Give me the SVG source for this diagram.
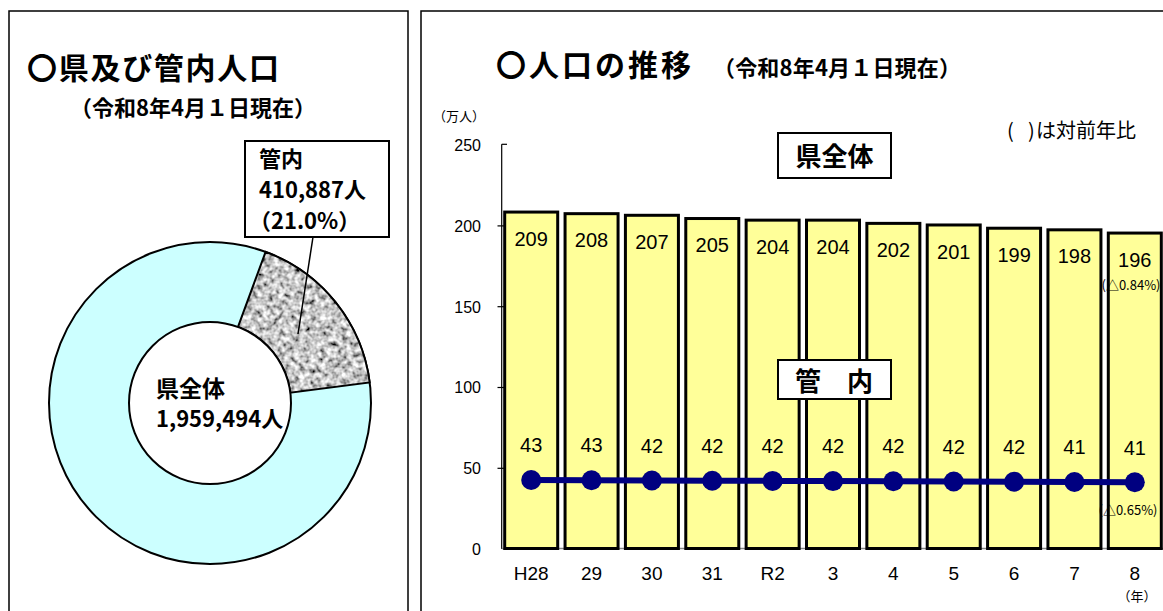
<svg xmlns="http://www.w3.org/2000/svg" width="1163" height="611" viewBox="0 0 1163 611">
<style>
.jp{font-family:"Noto Sans CJK JP","Liberation Sans",sans-serif;fill:#000}
.b{font-weight:bold}
.num{font-family:"Liberation Sans","Noto Sans CJK JP",sans-serif;fill:#000}
.panel{fill:#fff;stroke:#000;stroke-width:1.5}
.bar{fill:#ffff99;stroke:#000;stroke-width:3}
.box{fill:#fff;stroke:#000;stroke-width:2}
.ax{font-size:16px;text-anchor:end}
.bv{font-size:20px;text-anchor:middle}
.xl{font-size:19px;text-anchor:middle}
.dot{fill:#000080}
</style>
<defs>
<filter id="noise" x="0" y="0" width="100%" height="100%">
<feTurbulence type="fractalNoise" baseFrequency="0.19" numOctaves="2" seed="7" result="t"/>
<feColorMatrix in="t" type="matrix" values="1.8 0 0 0 -0.33 1.8 0 0 0 -0.33 1.8 0 0 0 -0.33 0 0 0 0 1" result="g"/>
<feComposite in="g" in2="SourceGraphic" operator="in"/>
</filter>
</defs>
<rect width="1163" height="611" fill="#fff"/>
<g id="left-panel">
<rect class="panel" x="9" y="11" width="399" height="700"/>
<text class="jp b" x="27" y="79" font-size="30" textLength="252">〇県及び管内人口</text>
<text class="jp b" x="70" y="116" font-size="22" textLength="246">（令和8年4月１日現在）</text>
</g>
<g id="donut">
<circle cx="210" cy="403" r="161" fill="#ccffff" stroke="#000" stroke-width="2"/>
<path d="M265.6,251.9 A161,161 0 0 1 369.7,382.5 L290.3,392.7 A81,81 0 0 0 238.0,327.0 Z" fill="#999" filter="url(#noise)"/>
<path d="M265.6,251.9 A161,161 0 0 1 369.7,382.5 L290.3,392.7 A81,81 0 0 0 238.0,327.0 Z" fill="none" stroke="#000" stroke-width="2"/>
<circle cx="210" cy="403" r="81" fill="#fff" stroke="#000" stroke-width="2"/>
</g>
<g id="node-total">
<text class="jp b" x="156" y="397" font-size="23">県全体</text>
<text class="jp b" x="156" y="427" font-size="22">1,959,494人</text>
</g>
<g id="node-kannai-callout">
<rect class="box" x="245" y="141" width="144" height="96"/>
<text class="jp b" x="259" y="167" font-size="22">管内</text>
<text class="jp b" x="259" y="198" font-size="22">410,887人</text>
<text class="jp b" x="249" y="229" font-size="22">（21.0%）</text>
</g>
<g id="connectors">
<line x1="313" y1="237" x2="298" y2="334" stroke="#000" stroke-width="1.5"/>
</g>
<g id="right-panel">
<rect class="panel" x="421" y="11" width="800" height="700"/>
<text class="jp b" x="496" y="76" font-size="30" textLength="195">〇人口の推移</text>
<text class="jp b" x="713" y="76" font-size="22" textLength="248">（令和8年4月１日現在）</text>
<text class="jp" x="433" y="121" font-size="13">（万人）</text>
<text class="jp" y="138" font-size="20"><tspan x="1007">(</tspan><tspan x="1028">)</tspan><tspan x="1036">は対前年比</tspan></text>
</g>
<g id="axis">
<line x1="501.7" y1="144.3" x2="501.7" y2="549" stroke="#000" stroke-width="1.2"/>
<line x1="501.7" y1="548.5" x2="1163" y2="548.5" stroke="#888" stroke-width="1.5"/>
<g stroke="#000" stroke-width="1.2">
<line x1="501.7" y1="144.3" x2="507" y2="144.3"/>
<line x1="497.5" y1="225.9" x2="505" y2="225.9"/>
<line x1="497.5" y1="306.7" x2="505" y2="306.7"/>
<line x1="497.5" y1="387.5" x2="505" y2="387.5"/>
<line x1="497.5" y1="468.3" x2="505" y2="468.3"/>
</g>
<text class="num ax" x="481" y="151">250</text>
<text class="num ax" x="481" y="232">200</text>
<text class="num ax" x="481" y="313">150</text>
<text class="num ax" x="481" y="393">100</text>
<text class="num ax" x="481" y="474">50</text>
<text class="num ax" x="481" y="555">0</text>
</g>
<g id="bars">
<rect class="bar" x="504.7" y="212.06" width="53" height="336.44"/>
<rect class="bar" x="565.06" y="213.67" width="53" height="334.83"/>
<rect class="bar" x="625.42" y="215.29" width="53" height="333.21"/>
<rect class="bar" x="685.78" y="218.52" width="53" height="329.98"/>
<rect class="bar" x="746.14" y="220.14" width="53" height="328.36"/>
<rect class="bar" x="806.5" y="220.14" width="53" height="328.36"/>
<rect class="bar" x="866.86" y="223.37" width="53" height="325.13"/>
<rect class="bar" x="927.22" y="224.98" width="53" height="323.52"/>
<rect class="bar" x="987.58" y="228.22" width="53" height="320.28"/>
<rect class="bar" x="1047.94" y="229.83" width="53" height="318.67"/>
<rect class="bar" x="1108.3" y="233.06" width="53" height="315.44"/>
</g>
<g id="bar-values">
<text class="num bv" x="531.2" y="245.6">209</text>
<text class="num bv" x="591.56" y="247.2">208</text>
<text class="num bv" x="651.92" y="248.8">207</text>
<text class="num bv" x="712.28" y="252.0">205</text>
<text class="num bv" x="772.64" y="253.6">204</text>
<text class="num bv" x="833.0" y="253.6">204</text>
<text class="num bv" x="893.36" y="256.9">202</text>
<text class="num bv" x="953.72" y="258.5">201</text>
<text class="num bv" x="1014.08" y="261.7">199</text>
<text class="num bv" x="1074.44" y="263.3">198</text>
<text class="num bv" x="1134.8" y="266.6">196</text>
<text class="jp" x="1131" y="290" font-size="13" text-anchor="middle">(△0.84%)</text>
</g>
<g id="node-label-ken">
<rect class="box" x="778" y="133" width="113" height="45"/>
<text class="jp b" x="834.5" y="166" font-size="26" text-anchor="middle">県全体</text>
</g>
<g id="node-label-kannai">
<rect class="box" x="778" y="360" width="113" height="39"/>
<text class="jp b" x="834" y="391" font-size="26" text-anchor="middle">管　内</text>
</g>
<g id="line-series">
<polyline points="531.2,480 591.56,480.2 651.92,480.5 712.28,480.7 772.64,480.9 833,481.1 893.36,481.3 953.72,481.5 1014.08,481.7 1074.44,482 1134.8,482.3" fill="none" stroke="#000080" stroke-width="6"/>
<circle class="dot" cx="531.2" cy="480" r="10"/>
<circle class="dot" cx="591.56" cy="480.2" r="10"/>
<circle class="dot" cx="651.92" cy="480.5" r="10"/>
<circle class="dot" cx="712.28" cy="480.7" r="10"/>
<circle class="dot" cx="772.64" cy="480.9" r="10"/>
<circle class="dot" cx="833" cy="481.1" r="10"/>
<circle class="dot" cx="893.36" cy="481.3" r="10"/>
<circle class="dot" cx="953.72" cy="481.5" r="10"/>
<circle class="dot" cx="1014.08" cy="481.7" r="10"/>
<circle class="dot" cx="1074.44" cy="482" r="10"/>
<circle class="dot" cx="1134.8" cy="482.3" r="10"/>
<text class="num bv" x="531.2" y="452">43</text>
<text class="num bv" x="591.56" y="452">43</text>
<text class="num bv" x="651.92" y="452.5">42</text>
<text class="num bv" x="712.28" y="452.5">42</text>
<text class="num bv" x="772.64" y="453">42</text>
<text class="num bv" x="833" y="453">42</text>
<text class="num bv" x="893.36" y="453">42</text>
<text class="num bv" x="953.72" y="453.5">42</text>
<text class="num bv" x="1014.08" y="453.5">42</text>
<text class="num bv" x="1074.44" y="454">41</text>
<text class="num bv" x="1134.8" y="454.5">41</text>
<text class="jp" x="1128" y="515" font-size="13" text-anchor="middle">(△0.65%)</text>
</g>
<g id="x-labels">
<text class="num xl" x="531.2" y="580">H28</text>
<text class="num xl" x="591.56" y="580">29</text>
<text class="num xl" x="651.92" y="580">30</text>
<text class="num xl" x="712.28" y="580">31</text>
<text class="num xl" x="772.64" y="580">R2</text>
<text class="num xl" x="833" y="580">3</text>
<text class="num xl" x="893.36" y="580">4</text>
<text class="num xl" x="953.72" y="580">5</text>
<text class="num xl" x="1014.08" y="580">6</text>
<text class="num xl" x="1074.44" y="580">7</text>
<text class="num xl" x="1134.8" y="580">8</text>
<text class="jp" x="1137" y="601" font-size="13" text-anchor="middle">（年）</text>
</g>
</svg>
